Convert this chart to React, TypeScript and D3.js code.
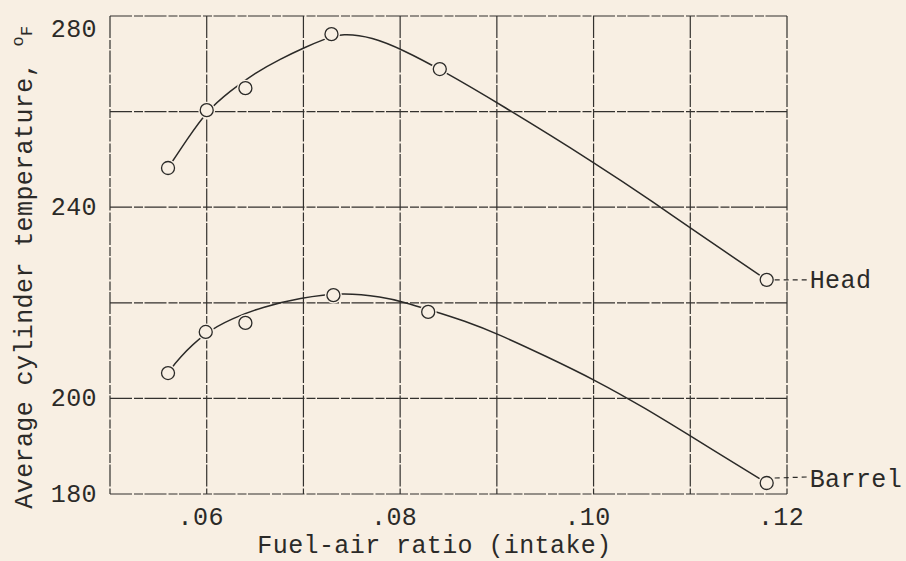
import React from "react";
import * as d3 from "d3";

// ---------- data ----------
const xGridValues = [0.05, 0.06, 0.07, 0.08, 0.09, 0.1, 0.11, 0.12];
const yGridValues = [180, 200, 220, 240, 260, 280];
const xTickValues = [0.06, 0.08, 0.1, 0.12];
const xTickLabels = [".06", ".08", ".10", ".12"];
const yTickValues = [180, 200, 240, 280];
const yTickLabels = ["180", "200", "240", "280"];

// measured points (fuel-air ratio, temperature °F)
const headX = [0.056, 0.06, 0.064, 0.0729, 0.0841, 0.1179];
const headY = [248.2, 260.3, 264.9, 276.2, 268.9, 224.8];
const barrelX = [0.056, 0.0599, 0.064, 0.0731, 0.0829, 0.1179];
const barrelY = [205.3, 213.9, 215.8, 221.6, 218.1, 182.3];

// faired curves
const headCurveX = [0.056, 0.058, 0.06, 0.0624, 0.065, 0.0676, 0.0702, 0.0722, 0.074, 0.0771, 0.0803, 0.0841, 0.0903, 0.1002, 0.1066, 0.1103, 0.1179];
const headCurveY = [248.2, 254.3, 260.1, 264.3, 268.1, 271.0, 273.5, 275.2, 276.4, 275.6, 272.9, 268.9, 261.6, 249.2, 240.5, 235.2, 224.8];
const barrelCurveX = [0.056, 0.057, 0.0599, 0.0627, 0.0657, 0.0696, 0.0741, 0.0782, 0.0803, 0.0831, 0.0867, 0.0901, 0.095, 0.1002, 0.1053, 0.1102, 0.1179];
const barrelCurveY = [205.3, 208.2, 213.9, 216.8, 219.1, 221.0, 222.2, 221.2, 220.2, 218.5, 216.2, 213.5, 208.9, 203.8, 198.0, 191.9, 182.3];

const seriesNames = ["Head", "Barrel"];
const xTitle = "Fuel-air ratio (intake)";
const yTitle = "Average cylinder temperature, ";

// ---------- layout ----------
const W = 906;
const H = 561;
const L = 110, R = 787, T = 16, B = 494;
const BG = "#f8efe3";
const INK = "#2b2a28";
const FONT = "'Liberation Mono', 'DejaVu Sans Mono', monospace";
const FS = 25;
const LS = 0.4;

export default function App() {
  const x = d3.scaleLinear().domain([0.05, 0.12]).range([L, R]);
  const y = d3.scaleLinear().domain([180, 280]).range([B, T]);

  const line = d3
    .line<[number, number]>()
    .x((d) => x(d[0]))
    .y((d) => y(d[1]))
    .curve(d3.curveBasis);

  const headCurve = headCurveX.map((v, i) => [v, headCurveY[i]] as [number, number]);
  const barrelCurve = barrelCurveX.map((v, i) => [v, barrelCurveY[i]] as [number, number]);
  const headPts = headX.map((v, i) => [v, headY[i]] as [number, number]);
  const barrelPts = barrelX.map((v, i) => [v, barrelY[i]] as [number, number]);

  const gridStyle = {
    stroke: "#33312e",
    strokeWidth: 1.2,
    strokeDasharray: "22 2 9 1.5",
    fill: "none",
  };

  const headLast = headPts[headPts.length - 1];
  const barrelLast = barrelPts[barrelPts.length - 1];

  const textProps = {
    fontFamily: FONT,
    fontSize: FS,
    letterSpacing: LS,
    fill: INK,
  };

  return (
    <div style={{ position: "absolute", left: 0, top: 0, width: W, height: H, background: BG }}>
      <svg width={W} height={H} style={{ display: "block" }}>
        <rect x={0} y={0} width={W} height={H} fill={BG} />
        {/* grid */}
        {xGridValues.map((v, i) => (
          <line key={"gx" + i} x1={x(v)} x2={x(v)} y1={T} y2={B} style={gridStyle} />
        ))}
        {yGridValues.map((v, i) => (
          <line key={"gy" + i} x1={L} x2={R} y1={y(v)} y2={y(v)} style={gridStyle} />
        ))}

        {/* curves */}
        <path d={line(headCurve) || ""} fill="none" stroke={INK} strokeWidth={1.5} />
        <path d={line(barrelCurve) || ""} fill="none" stroke={INK} strokeWidth={1.5} />

        {/* points */}
        {[...headPts, ...barrelPts].map((p, i) => (
          <g key={"p" + i}>
            <circle cx={x(p[0])} cy={y(p[1])} r={8.5} fill={BG} />
            <circle cx={x(p[0])} cy={y(p[1])} r={6.5} fill={BG} stroke={INK} strokeWidth={1.3} />
          </g>
        ))}

        {/* leaders & series labels */}
        <line
          x1={x(headLast[0]) + 8}
          x2={x(headLast[0]) + 40}
          y1={y(headLast[1])}
          y2={y(headLast[1])}
          stroke={INK}
          strokeWidth={1.2}
          strokeDasharray="5 4"
        />
        <text {...textProps} x={x(headLast[0]) + 43} y={y(headLast[1]) + 8}>
          {seriesNames[0]}
        </text>
        <line
          x1={x(barrelLast[0]) + 8}
          x2={x(barrelLast[0]) + 40}
          y1={y(barrelLast[1]) - 5}
          y2={y(barrelLast[1]) - 6}
          stroke={INK}
          strokeWidth={1.2}
          strokeDasharray="5 4"
        />
        <text {...textProps} x={x(barrelLast[0]) + 43} y={y(barrelLast[1]) + 4}>
          {seriesNames[1]}
        </text>

        {/* x tick labels */}
        {xTickValues.map((v, i) => (
          <text key={"xt" + i} {...textProps} x={x(v) - 6} y={B + 31} textAnchor="middle">
            {xTickLabels[i]}
          </text>
        ))}
        {/* y tick labels */}
        {yTickValues.map((v, i) => (
          <text
            key={"yt" + i}
            {...textProps}
            x={97}
            y={Math.max(y(v), T + 13) + 8}
            textAnchor="end"
          >
            {yTickLabels[i]}
          </text>
        ))}

        {/* axis titles */}
        <text {...textProps} x={(L + R) / 2 - 14} y={553} textAnchor="middle">
          {xTitle}
        </text>
        <text {...textProps} transform={`translate(32, 267) rotate(-90)`} textAnchor="middle">
          {yTitle}
          <tspan fontSize={17} dy={-9}>o</tspan>
          <tspan fontSize={17} dy={9}>F</tspan>
        </text>
      </svg>
    </div>
  );
}
